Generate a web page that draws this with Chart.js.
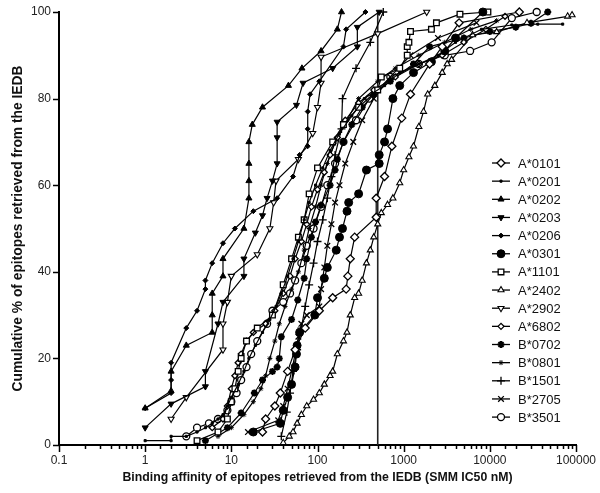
<!DOCTYPE html>
<html>
<head>
<meta charset="utf-8">
<script src="https://cdn.jsdelivr.net/npm/chart.js@4.4.1/dist/chart.umd.min.js"></script>
<style>
  html, body { margin: 0; padding: 0; background: #fff; }
  #wrap { width: 600px; height: 493px; }
</style>
</head>
<body>
<div id="wrap"><canvas id="chart"></canvas></div>
<script>
// alleles in legend order
const alleles = ['A*0101', 'A*0201', 'A*0202', 'A*0203', 'A*0206', 'A*0301', 'A*1101',
  'A*2402', 'A*2902', 'A*6802', 'B*0702', 'B*0801', 'B*1501', 'B*2705', 'B*3501'];

// [IC50 nM, cumulative %]
const a0101 = [[23,3],[25,6],[32,9],[37,12],[45,17],[55,22],[72,27],[105,31],[150,34],[215,36],[225,39],[240,43],[270,48],[480,52.6],[480,57],[600,62],[730,69],[950,75.5],[1200,81],[2000,88],[2800,92],[4400,97.5],[22000,100]];
const a0201 = [[1,1],[2,1],[2,2],[3,2],[4,3],[5,4],[6,5],[7,6],[8,7],[9,9],[10,11],[12,14],[14,17],[16,20],[19,23],[23,26],[28,29],[33,32],[38,35],[45,39],[52,43],[60,47],[70,52],[80,56],[95,60],[115,64],[140,68],[180,72],[250,76],[350,80],[600,83],[900,86],[1500,88],[2500,90],[4000,93],[8000,96],[18000,97],[36000,97.2],[70000,97.2]];
const a0202 = [[1,8.5],[2,12.5],[2,17],[3,23],[6,26],[6,30],[6,35],[8,39],[8,43],[14,50],[16,57],[16,61],[16,65],[16,70],[17.5,74],[23,78],[46,83],[66,87],[110,91],[170,96],[190,100]];
const a0203 = [[1,4],[2,9.5],[5,13.5],[5,17],[7,28],[8,33],[14,39],[14,43],[19,49],[23,53],[26,57],[30,61],[34,65],[34,71],[34,74.6],[57,78.5],[68,83.6],[150,87],[290,92],[290,96.5],[520,100]];
const a0206 = [[1,8.5],[2,12],[2,15],[2,19],[3,27],[4,31],[5,36],[5,38],[6,42],[8,46.6],[11,50],[18,54],[34,57],[52,62],[62,67],[77,69],[77,73],[77,77],[82,81],[105,84],[200,92],[215,96],[360,100]];
const a0301 = [[18,3],[37,5],[40,8],[45,11],[50,14],[55,18],[57,21],[58,23],[62,26],[93,30],[100,34],[120,38.5],[130,41],[165,45],[180,48],[195,50],[220,54],[230,56],[300,58],[370,63.5],[520,65],[520,67],[600,70],[650,73],[750,80],[900,83],[1300,86],[2100,88.5],[3000,91],[4000,94],[8300,100]];
const a1101 = [[4,1],[7,3],[9,6],[10,10],[11,13],[12,17],[13,20],[15,24],[20,27],[30,30],[40,37],[50,43],[60,48],[70,52],[80,58],[100,64],[150,70],[200,74],[300,78],[500,82],[550,85],[900,87],[1100,90],[1100,92],[1150,93],[1200,95.5],[2100,96],[2400,97.5],[4500,99.5],[9500,100]];
const a2402 = [[40,0.5],[47,2],[52,3],[58,5],[65,7],[75,9],[90,10.5],[105,12],[120,14],[140,16],[150,17],[170,21],[200,24],[220,26],[240,30],[270,34],[300,35],[330,38],[370,42],[410,45],[450,48],[500,51],[550,53.6],[650,55.5],[750,57],[900,60.5],[1000,63.5],[1150,66.5],[1300,69],[1500,73.5],[1700,77],[1900,81],[2300,83],[2800,86],[3200,88],[3600,89],[6300,94.7],[12000,95.4],[27000,97.5],[80000,99],[90000,99.3]];
const a2902 = [[2,6],[3,11],[8,22],[8,28],[9,33],[10,39],[20,44],[28,50],[31,56],[33,61],[60,66],[88,72],[100,78],[110,83.6],[110,89.6],[500,95],[1850,100]];
const a6802 = [[6,4],[8,6],[9,9],[10,13],[11,16],[12,19],[13,21],[15,24],[18,26],[25,28],[32,31],[40,35],[48,39],[55,43],[65,47],[75,51],[85,55],[100,59],[120,63],[140,67],[170,71],[210,75],[300,79],[450,82],[800,85],[1500,88],[2800,90],[5000,93],[9000,96],[15000,99]];
const b0702 = [[5,1],[9,4],[13,7.4],[18.5,12],[23,15],[30,17],[34,18],[36,20],[38,25],[50,29],[59,33.5],[70,38.5],[75,43],[85,48],[95,51.5],[110,55.4],[140,60],[160,63.5],[170,66],[200,70],[250,74],[330,78],[450,81],[700,84],[1300,88],[2000,92],[5000,94],[10000,95.5],[20000,96.5],[30000,97.4],[47000,100]];
const b0801 = [[7,2],[10,4],[14,7],[18,10],[22,13],[25,16],[28,20],[32,24],[36,28],[42,32],[50,36],[60,40],[70,45],[80,50],[95,55],[110,60],[130,65],[160,70],[220,75],[300,80],[500,84],[800,87],[1500,90],[3000,93],[6000,96],[12000,98]];
const b1501 = [[38,2],[44,7.6],[48,12],[52,17],[58,22],[65,27],[72,32],[80,37],[90,42],[100,47],[115,52],[130,57],[145,62],[160,67],[190,73],[195,80],[280,87],[410,93],[580,100]];
const b2705 = [[15.6,3],[35,5.7],[40,9],[45,13],[50,17],[55,21],[60,25],[65,28],[75,30],[105,32],[110,36],[120,41],[130,46],[145,51],[160,56],[180,60],[210,65],[260,70],[330,75],[450,80],[700,85],[1200,90],[2500,94],[7000,97.5]];
const b3501 = [[3,2],[4,4],[5.5,5],[7,6],[9,8],[10,10],[11.5,12],[13,15],[15,18],[17,21],[20,24],[26,28],[30,31],[40,33],[48,35],[55,38],[65,42],[75,46],[90,50],[110,55],[130,60],[160,65],[200,70],[280,75],[400,80],[700,85],[1500,88],[3000,90],[5900,91],[10500,93],[18000,98.6],[35000,100]];

const series = [a0101, a0201, a0202, a0203, a0206, a0301, a1101, a2402, a2902, a6802, b0702, b0801, b1501, b2705, b3501];
const cutoff = [[500, 0], [500, 100]];
const yTicks = [0, 20, 40, 60, 80, 100];
const xDecades = [0.1, 1, 10, 100, 1000, 10000, 100000];

// marker look for each allele
const markers = [
  { style: 'rectRot', r: 4, fill: '#fff', bw: 1.3 },
  { style: 'rect', r: 1.5, fill: '#000', bw: 1 },
  { style: 'triangle', r: 3.5, fill: '#000', bw: 1 },
  { style: 'triangle', r: 3.5, fill: '#000', bw: 1, rot: 180 },
  { style: 'rectRot', r: 2.5, fill: '#000', bw: 1 },
  { style: 'circle', r: 4, fill: '#000', bw: 1 },
  { style: 'rect', r: 4, fill: '#fff', bw: 1.3 },
  { style: 'triangle', r: 3.5, fill: '#fff', bw: 1.1 },
  { style: 'triangle', r: 3.5, fill: '#fff', bw: 1.1, rot: 180 },
  { style: 'rectRot', r: 3, fill: '#fff', bw: 1.3 },
  { style: 'star', r: 3.5, fill: '#000', bw: 2 },
  { style: 'star', r: 2.5, fill: '#000', bw: 1 },
  { style: 'cross', r: 4, fill: '#000', bw: 1.3 },
  { style: 'crossRot', r: 4, fill: '#000', bw: 1.3 },
  { style: 'circle', r: 3.5, fill: '#fff', bw: 1.3 }
];

const FONT = "'Liberation Sans', Arial, sans-serif";

const datasets = series.map((s, i) => ({
  label: alleles[i],
  data: s.map(p => ({ x: p[0], y: p[1] })),
  showLine: true,
  borderColor: '#000',
  borderWidth: 1.2,
  backgroundColor: markers[i].fill,
  pointStyle: markers[i].style,
  pointRadius: markers[i].r,
  pointRotation: markers[i].rot || 0,
  pointBorderWidth: markers[i].bw,
  pointBorderColor: '#000',
  pointBackgroundColor: markers[i].fill,
  clip: false
}));
datasets.push({
  label: 'cutoff',
  data: cutoff.map(p => ({ x: p[0], y: p[1] })),
  showLine: true,
  borderColor: '#222',
  borderWidth: 1.6,
  pointRadius: 0
});

const isDecade = v => Math.abs(Math.log10(v) - Math.round(Math.log10(v))) < 1e-6;

// tick marks + legend drawn on top
const decor = {
  id: 'decor',
  afterDraw(chart) {
    const ctx = chart.ctx;
    const xs = chart.scales.x, ys = chart.scales.y;
    ctx.save();
    ctx.strokeStyle = '#000';
    ctx.lineWidth = 1.5;
    xs.ticks.forEach(t => {
      const px = Math.round(xs.getPixelForValue(t.value)) + 0.5;
      const len = isDecade(t.value) ? 7 : 4;
      ctx.beginPath();
      ctx.moveTo(px, ys.bottom);
      ctx.lineTo(px, ys.bottom + len);
      ctx.stroke();
    });
    yTicks.forEach(v => {
      const py = Math.round(ys.getPixelForValue(v)) + 0.5;
      ctx.beginPath();
      ctx.moveTo(xs.left - 6, py);
      ctx.lineTo(xs.left, py);
      ctx.stroke();
    });

    // legend
    const x0 = 492, y0 = 163, step = 18.15;
    ctx.font = '13px ' + FONT;
    ctx.textBaseline = 'middle';
    ctx.fillStyle = '#111';
    alleles.forEach((name, i) => {
      const y = y0 + i * step;
      const m = markers[i];
      ctx.strokeStyle = '#000';
      ctx.lineWidth = 1.3;
      ctx.beginPath();
      ctx.moveTo(x0, y);
      ctx.lineTo(x0 + 18, y);
      ctx.stroke();
      ctx.fillStyle = m.fill;
      ctx.lineWidth = m.bw;
      Chart.helpers.drawPoint(ctx, { pointStyle: m.style, radius: m.r, rotation: m.rot || 0, borderWidth: m.bw }, x0 + 9, y);
      ctx.fillStyle = '#111';
      ctx.fillText(name, x0 + 26, y + 1);
    });
    ctx.restore();
  }
};

new Chart(document.getElementById('chart'), {
  type: 'scatter',
  data: { datasets },
  plugins: [decor],
  options: {
    responsive: true,
    maintainAspectRatio: false,
    animation: false,
    layout: { padding: { top: 12, right: 24, left: 0, bottom: 0 } },
    plugins: { legend: { display: false }, tooltip: { enabled: false } },
    scales: {
      x: {
        type: 'logarithmic',
        min: 0.1,
        max: 100000,
        afterFit: s => { s.height = 48; },
        border: { display: true, color: '#000', width: 2 },
        grid: { display: true, drawOnChartArea: false, drawTicks: true, tickLength: 7, color: 'rgba(0,0,0,0)' },
        ticks: {
          autoSkip: false,
          maxRotation: 0,
          padding: 1,
          color: '#222',
          font: { family: FONT, size: 12 },
          callback: v => {
            const d = xDecades.find(t => Math.abs(t - v) / t < 1e-6);
            return d !== undefined ? String(d) : '';
          }
        },
        title: {
          display: true,
          text: 'Binding affinity of epitopes retrieved from the IEDB (SMM IC50 nM)',
          color: '#111',
          font: { family: FONT, size: 12.3, weight: 'bold' },
          padding: { top: 0, bottom: 8 }
        }
      },
      y: {
        min: 0,
        max: 100,
        afterFit: s => { s.width = 59; },
        afterBuildTicks: s => { s.ticks = yTicks.map(v => ({ value: v })); },
        border: { display: true, color: '#000', width: 2 },
        grid: { display: true, drawOnChartArea: false, drawTicks: true, tickLength: 6, color: 'rgba(0,0,0,0)' },
        ticks: {
          padding: 2,
          color: '#222',
          font: { family: FONT, size: 12 }
        },
        title: {
          display: true,
          text: 'Cumulative % of epitopes retrieved from the IEDB',
          color: '#111',
          font: { family: FONT, size: 13.8, weight: 'bold' },
          padding: { top: 10, bottom: 0 }
        }
      }
    }
  }
});
</script>
</body>
</html>
